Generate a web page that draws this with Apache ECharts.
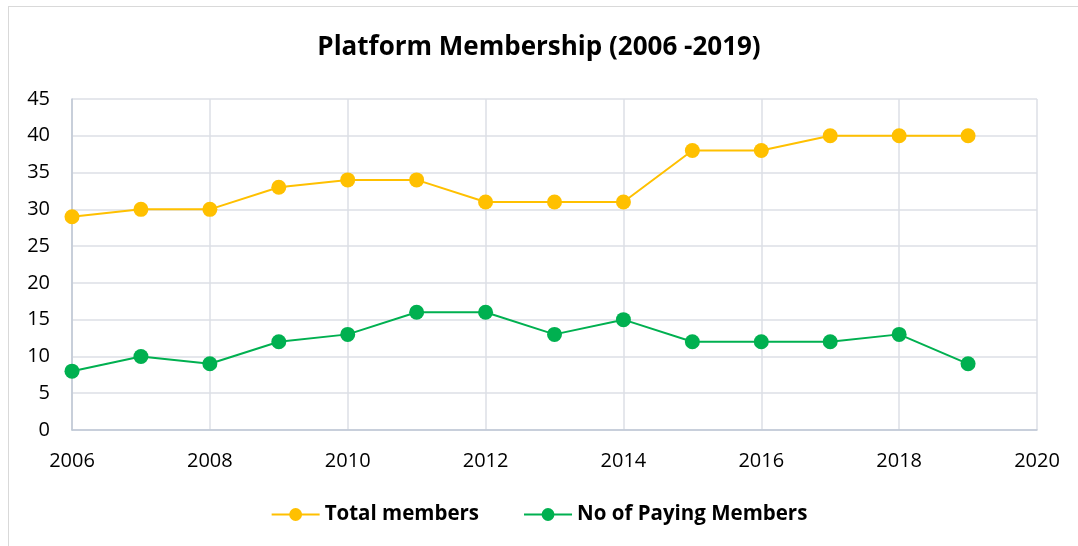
<!DOCTYPE html>
<html>
<head>
<meta charset="utf-8">
<script src="https://cdn.jsdelivr.net/npm/echarts@6/dist/echarts.min.js"></script>
<style>
  html, body { margin: 0; padding: 0; background: #fff; }
  #frame { position: absolute; left: 8px; top: 6px; width: 1080px; height: 560px; border: 1px solid #d9d9d9; box-sizing: border-box; }
  #chart { position: absolute; left: 0; top: 0; width: 1078px; height: 546px; }
</style>
</head>
<body>
<div id="frame"></div>
<div id="chart"></div>
<script>
const years = [2006, 2007, 2008, 2009, 2010, 2011, 2012, 2013, 2014, 2015, 2016, 2017, 2018, 2019];
const totalMembers = [29, 30, 30, 33, 34, 34, 31, 31, 31, 38, 38, 40, 40, 40];
const payingMembers = [8, 10, 9, 12, 13, 16, 16, 13, 15, 12, 12, 12, 13, 9];

const font = 'Open Sans, Noto Sans, sans-serif';

const chart = echarts.init(document.getElementById('chart'));

function pairs(vals) {
  return years.map((y, i) => [y, vals[i]]);
}

chart.setOption({
  animation: false,
  title: {
    text: 'Platform Membership (2006 -2019)',
    left: 'center',
    top: 30,
    textStyle: { fontFamily: font, fontSize: 26, fontWeight: 'bold', color: '#000' },
  },
  legend: {
    bottom: 16,
    left: 'center',
    itemGap: 44,
    itemWidth: 48,
    itemHeight: 16,
    textStyle: { fontFamily: font, fontSize: 20.5, fontWeight: 'bold', color: '#000' },
    data: ['Total members', 'No of Paying Members'],
  },
  grid: { left: 72, right: 41, top: 99, bottom: 116 },
  xAxis: {
    type: 'value',
    min: 2006,
    max: 2020,
    interval: 2,
    axisLine: { show: true, lineStyle: { color: '#bfc7d5', width: 1.5 } },
    axisTick: { show: false },
    splitLine: { show: true, lineStyle: { color: '#dcdfe6', width: 1.5 } },
    axisLabel: { fontFamily: font, fontSize: 20, color: '#000', margin: 21, formatter: v => String(v) },
  },
  yAxis: {
    type: 'value',
    min: 0,
    max: 45,
    interval: 5,
    axisLine: { show: true, lineStyle: { color: '#bfc7d5', width: 1.5 } },
    axisTick: { show: false },
    splitLine: { show: true, lineStyle: { color: '#dcdfe6', width: 1.5 } },
    axisLabel: { fontFamily: font, fontSize: 20, color: '#000', margin: 22 },
  },
  series: [
    {
      name: 'Total members',
      type: 'line',
      data: pairs(totalMembers),
      symbol: 'circle',
      symbolSize: 15,
      lineStyle: { color: '#FFC000', width: 2 },
      itemStyle: { color: '#FFC000' },
    },
    {
      name: 'No of Paying Members',
      type: 'line',
      data: pairs(payingMembers),
      symbol: 'circle',
      symbolSize: 15,
      lineStyle: { color: '#00B050', width: 2 },
      itemStyle: { color: '#00B050' },
    },
  ],
});
</script>
</body>
</html>
